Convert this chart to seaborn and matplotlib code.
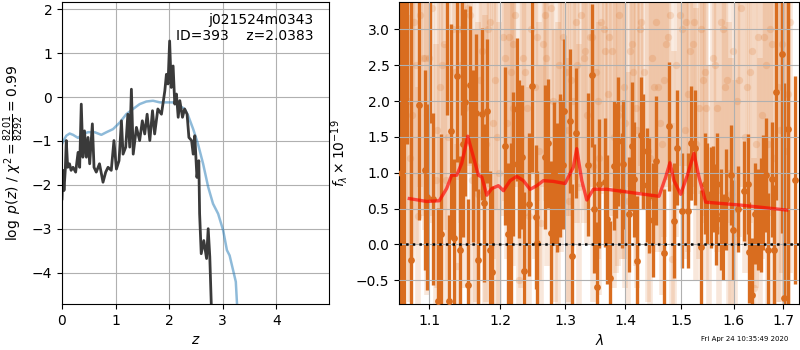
import numpy as np
import pandas as pd
import matplotlib
matplotlib.use("Agg")
import matplotlib.pyplot as plt
from matplotlib.ticker import FixedLocator, FixedFormatter, NullLocator
import seaborn as sns

# ---------------- left panel data: log p(z) ----------------
z_pz = [0.0, 0.019, 0.037, 0.062, 0.08, 0.106, 0.14, 0.17, 0.206, 0.255, 0.30, 0.33, 0.36, 0.39,
        0.42, 0.455, 0.486, 0.517, 0.567, 0.598, 0.64, 0.70, 0.766, 0.816, 0.86, 0.92, 0.97, 1.016,
        1.065, 1.11, 1.14, 1.19, 1.23, 1.265, 1.296, 1.33, 1.39, 1.45, 1.50, 1.545, 1.59, 1.64, 1.69,
        1.73, 1.79, 1.857, 1.92, 1.95, 1.98, 2.01, 2.04, 2.075, 2.106, 2.137, 2.17, 2.2, 2.25, 2.29,
        2.336, 2.37, 2.42, 2.45, 2.48, 2.52, 2.555, 2.57, 2.60, 2.648, 2.70, 2.73, 2.76, 2.80]
logpz = [-2.32, -1.67, -2.13, -1.64, -0.99, -1.6, -1.52, -1.67, -1.6, -1.71, -1.26, -1.6, -0.16, -1.37,
         -0.77, -1.37, -0.92, -1.52, -0.61, -1.6, -1.71, -1.52, -1.94, -1.71, -1.6, -1.67, -0.99, -1.64,
         -1.45, -0.54, -1.30, -1.14, -0.39, -1.14, 0.18, -1.30, -0.69, -0.99, -0.54, -0.84, -0.39, -0.99, -0.31,
         -0.84, -0.27, -0.39, 0.14, 0.52, 0.30, 1.28, 0.22, 0.71, -0.16, 0.07, -0.46, -0.08, -0.46, -0.27,
         -0.39, -0.92, -0.99, -1.30, -0.88, -1.83, -1.45, -2.66, -3.57, -3.27, -3.68, -3.0, -3.64, -5.2]

z_chi = [0.0, 0.03, 0.08, 0.143, 0.206, 0.30, 0.39, 0.486, 0.61, 0.735, 0.83, 0.953, 1.078, 1.2,
         1.327, 1.45, 1.576, 1.70, 1.826, 1.95, 2.075, 2.2, 2.29, 2.355, 2.45, 2.54, 2.635, 2.73,
         2.82, 2.916, 3.01, 3.08, 3.13, 3.196, 3.246, 3.29]
chi_curve = [-1.07, -0.99, -0.88, -0.83, -0.86, -0.93, -0.84, -0.80, -0.80, -0.86, -0.80, -0.73, -0.58, -0.39,
             -0.27, -0.16, -0.10, -0.083, -0.12, -0.12, -0.12, -0.20, -0.27, -0.42, -0.73, -1.07, -1.52, -2.05,
             -2.43, -2.66, -3.04, -3.49, -3.61, -3.95, -4.21, -5.2]

# ---------------- right panel: spectrum ----------------
wave_good = [1.062, 1.066, 1.0705, 1.0755, 1.0862, 1.0942, 1.0965, 1.1005, 1.1054, 1.1122, 1.1160,
             1.124, 1.1274, 1.1298, 1.1344, 1.1377, 1.1428, 1.145, 1.1461, 1.1494, 1.1541, 1.1569,
             1.1603, 1.1651, 1.1684, 1.1732, 1.1770, 1.1805, 1.1849, 1.1886, 1.2074, 1.2123,
             1.2163, 1.2198, 1.2249, 1.2283, 1.2324, 1.2364, 1.2440, 1.2486, 1.2538, 1.2563,
             1.2683, 1.2734, 1.2777, 1.2829, 1.2867, 1.2919, 1.2962, 1.2987, 1.3079, 1.3116,
             1.3171, 1.3377, 1.3433, 1.3476, 1.3516, 1.3554, 1.3654, 1.3693, 1.3738, 1.3806,
             1.3835, 1.3880, 1.3938, 1.3965, 1.4069, 1.4110, 1.4155, 1.4208, 1.4267, 1.4303,
             1.4384, 1.4414, 1.4490, 1.4538, 1.4688, 1.4773, 1.4864, 1.4925, 1.5017, 1.5128,
             1.5173, 1.5253, 1.5366, 1.5442, 1.5486, 1.5550, 1.5600, 1.5646, 1.5677, 1.5743,
             1.5793, 1.5840, 1.5944, 1.5977, 1.6076, 1.6207, 1.6275, 1.6301, 1.6367, 1.6421,
             1.6476, 1.6543, 1.6590, 1.6645, 1.6692, 1.6762, 1.6816, 1.6857, 1.6982, 1.7024,
             1.7095, 1.7250]
flux_good = [1.0, 2.0, 3.6, -0.22, 1.94, 1.04, 0.66, 3.7, 0.63, -0.79, 0.14,
             3.5, -0.79, 1.58, 0.09, 2.35, -0.07, 3.6, 1.40, 1.98, -0.57, 2.23,
             1.23, 1.84, -0.22, 1.82, 0.58, 1.86, -0.08, -0.39, 1.37, 0.14,
             0.22, 1.12, 1.885, 1.19, 1.22, -0.37, 0.56, 2.21, 0.385, 0.02,
             1.22, 1.41, 0.16, 0.99, 0.80, 1.10, 1.11, 1.86, 1.72, -0.16,
             1.555, 1.115, 2.36, 0.50, -0.59, 0.85, 0.87, 0.35, -0.47, 1.10,
             1.17, 1.44, 0.75, 1.12, 0.42, 1.37, 0.91, -0.23, 1.53, 1.30,
             0.83, 0.68, 0.34, 1.17, -0.125, 1.65, 0.33, 1.35, 0.47, 0.47,
             1.415, 1.35, -0.04, 0.85, 0.71, 0.655, 0.78, 0.42, 0.85, 0.35,
             0.10, 0.63, 0.97, 0.20, 0.49, 0.75, 0.84, -0.11, -0.71, 0.43,
             0.35, 0.41, 0.72, 0.97, -0.08, 0.91, -0.07, 2.12, 2.66, -0.75,
             1.61, 0.9]
err_good = [4.0, 3.5, 2.2, 3.8, 1.6, 1.4, 1.3, 2.0, 1.2, 1.3, 1.4,
            1.7, 1.2, 1.5, 1.1, 1.2, 1.3, 1.8, 1.3, 1.3, 1.2, 1.1,
            1.2, 1.1, 1.0, 1.2, 1.1, 1.0, 1.1, 1.2, 1.1, 1.0,
            1.2, 1.0, 1.0, 1.1, 1.0, 1.1, 1.0, 1.2, 1.0, 1.0,
            1.0, 0.9, 1.0, 1.0, 0.9, 1.0, 0.9, 1.0, 1.0, 1.0,
            0.9, 1.0, 1.0, 0.9, 0.9, 0.9, 0.9, 0.9, 0.8, 0.9,
            0.8, 0.9, 0.8, 0.9, 0.8, 0.9, 0.8, 0.9, 0.8, 0.8,
            0.8, 0.8, 0.8, 0.9, 0.9, 0.9, 0.8, 0.8, 0.8, 0.8,
            0.8, 0.8, 0.8, 0.7, 0.7, 0.7, 0.6, 0.7, 0.7, 0.7,
            0.6, 0.7, 0.7, 0.7, 0.6, 0.7, 0.7, 0.7, 0.8, 0.7,
            0.7, 0.8, 0.8, 0.8, 0.8, 0.8, 0.9, 1.5, 2.5, 3.0,
            2.5, 1.45]

wave_faint = [1.068, 1.074, 1.079, 1.085, 1.091, 1.097, 1.103, 1.109, 1.114, 1.120,
              1.126, 1.132, 1.138, 1.144, 1.150, 1.156, 1.162, 1.168, 1.174, 1.180,
              1.186, 1.192, 1.198, 1.204, 1.210, 1.216, 1.222, 1.228, 1.234, 1.240,
              1.247, 1.253, 1.259, 1.265, 1.272, 1.278, 1.284, 1.291, 1.297, 1.304,
              1.310, 1.317, 1.323, 1.330, 1.336, 1.343, 1.350, 1.356, 1.363, 1.370,
              1.377, 1.384, 1.390, 1.397, 1.404, 1.411, 1.418, 1.425, 1.433, 1.440,
              1.447, 1.454, 1.461, 1.469, 1.476, 1.483, 1.491, 1.498, 1.506, 1.513,
              1.521, 1.528, 1.536, 1.544, 1.552, 1.559, 1.567, 1.575, 1.583, 1.591,
              1.599, 1.607, 1.615, 1.623, 1.632, 1.640, 1.648, 1.656, 1.665, 1.673,
              1.681, 1.690, 1.698, 1.707, 1.715, 1.071, 1.117, 1.165, 1.213, 1.262,
              1.313, 1.366, 1.421, 1.479, 1.540, 1.603, 1.669, 1.094, 1.141, 1.189,
              1.238, 1.288, 1.340, 1.394, 1.450, 1.509, 1.571, 1.636, 1.703, 1.082,
              1.077, 1.100, 1.123, 1.147, 1.171, 1.195, 1.219, 1.244, 1.268, 1.294,
              1.320, 1.346, 1.373, 1.400, 1.428, 1.457, 1.486, 1.516, 1.547, 1.579,
              1.611, 1.644, 1.677, 1.711, 1.088, 1.111, 1.135, 1.159, 1.183, 1.207,
              1.231, 1.256, 1.281, 1.307, 1.333, 1.359, 1.387, 1.414, 1.443, 1.472,
              1.502, 1.532, 1.563, 1.595, 1.627, 1.660, 1.694, 1.153, 1.178, 1.301,
              1.353, 1.408, 1.465, 1.524, 1.587, 1.652, 1.219, 1.270, 1.326, 1.380]
flux_faint = [2.9, 1.2, 3.1, 0.4, 2.6, 1.8, 3.3, 0.9, 2.2, 2.8,
              1.5, 3.0, -0.3, 2.5, 1.9, 3.2, 2.1, 0.7, 2.7, 1.4,
              3.1, 2.3, 1.0, 2.9, 1.7, 2.4, 3.2, -0.5, 2.6, 1.9,
              3.0, 2.2, 1.3, 2.8, 2.0, 3.3, 1.1, 2.5, 2.9, 1.6,
              2.3, 3.1, 0.8, 2.6, 1.8, 2.9, 2.4, 1.2, 3.0, 2.1,
              2.7, 1.5, 3.2, 2.2, 0.6, 2.8, 1.9, 3.0, 2.4, 1.3,
              2.6, 3.1, 1.7, 2.3, 2.9, -0.2, 2.5, 3.2, 1.6, 2.1,
              2.8, 1.4, 3.0, 2.4, 0.7, 2.6, 1.9, 3.1, 2.2, 1.0,
              2.7, 2.0, 3.3, 1.5, 2.4, -0.6, 2.9, 1.8, 2.5, 3.0,
              1.2, 2.2, 2.8, 1.6, 3.1, 2.0, 2.5, 1.1, 2.9, 0.3,
              2.0, 2.7, 1.6, 3.2, 2.3, 0.5, 1.4, 2.6, 3.0, 1.7,
              2.4, 0.9, 2.9, 1.9, 2.2, 3.1, 0.2, 2.7, 1.3, 2.5,
              1.8, 2.6, 0.9, 3.0, 2.3, 1.5, 2.8, 0.4, 3.2, 2.0,
              2.5, 1.1, 2.9, 1.7, 3.1, 2.2, 0.8, 2.7, 1.9, 3.0,
              2.3, 1.4, 2.8, 2.1, 3.2, 1.6, 2.4, 0.9, 3.0, 2.6,
              1.5, 2.9, 2.0, 0.6, 2.7, 3.1, 1.8, 2.4, 1.2, 2.8,
              3.0, 1.9, 2.5, 0.7, 2.2, 2.9, 1.6, 3.3, 1.1, 2.4,
              2.0, 2.7, 1.4, 3.1, 2.3, 0.8, 1.9, 2.6, 3.2, 1.5]
err_faint = [2.4, 2.0, 2.6, 1.8, 2.2, 2.5, 2.9, 1.9, 2.1, 2.6,
             2.0, 2.3, 1.7, 2.2, 2.5, 2.1, 1.9, 2.4, 2.0, 2.2,
             2.3, 1.8, 2.1, 2.5, 1.9, 2.2, 2.4, 1.7, 2.0, 2.3,
             2.1, 2.4, 1.8, 2.0, 2.3, 2.6, 1.9, 2.2, 2.1, 2.4,
             1.9, 2.2, 2.0, 2.3, 1.8, 2.1, 2.4, 1.9, 2.2, 2.0,
             2.3, 1.9, 2.1, 2.4, 1.8, 2.0, 2.2, 2.5, 1.9, 2.1,
             2.0, 2.3, 1.8, 2.2, 2.0, 1.9, 2.4, 2.1, 1.8, 2.2,
             2.1, 1.9, 2.3, 2.0, 1.8, 2.2, 2.0, 2.4, 1.9, 2.1,
             2.2, 2.0, 2.5, 1.9, 2.1, 1.8, 2.3, 2.0, 2.2, 2.6,
             2.8, 3.0, 3.2, 3.3, 3.5, 2.5, 2.0, 1.9, 2.1, 2.2,
             2.0, 1.9, 2.2, 2.1, 2.0, 1.8, 2.3, 2.4, 2.1, 1.9,
             2.0, 2.2, 1.9, 2.1, 2.3, 2.0, 1.8, 2.2, 3.0, 2.5,
             2.0, 2.3, 1.9, 2.2, 2.1, 2.4, 2.0, 1.8, 2.3, 2.1,
             2.2, 1.9, 2.1, 2.3, 2.0, 2.2, 1.9, 2.1, 2.4, 2.0,
             2.2, 2.0, 2.3, 3.0, 2.4, 2.2, 1.9, 2.1, 2.3, 2.0,
             2.1, 2.3, 1.9, 2.0, 2.2, 2.4, 2.1, 1.9, 2.2, 2.0,
             2.3, 2.1, 2.0, 1.9, 2.2, 2.0, 2.4, 2.3, 2.1, 2.0,
             2.2, 1.9, 2.1, 2.3, 2.0, 1.8, 2.2, 2.0, 2.4, 2.1]

wave_model = [1.0733, 1.0965, 1.1136, 1.1237, 1.1307, 1.1377, 1.1447, 1.1533, 1.1613, 1.1685,
              1.1734, 1.1806, 1.1879, 1.1976, 1.2050, 1.2150, 1.2250, 1.2350, 1.2452, 1.2555,
              1.2657, 1.2814, 1.3000, 1.3133, 1.3188, 1.3270, 1.3352, 1.3461, 1.3685, 1.4592,
              1.4713, 1.4791, 1.4864, 1.4987, 1.5111, 1.5234, 1.5328, 1.5455, 1.6124, 1.7074]
flux_model = [0.64, 0.60, 0.61, 0.78, 0.966, 0.966, 1.13, 1.51, 1.22, 0.966,
              0.94, 0.687, 0.78, 0.82, 0.75, 0.89, 0.95, 0.89, 0.769, 0.82,
              0.89, 0.88, 0.85, 1.08, 1.336, 0.89, 0.62, 0.77, 0.77, 0.672,
              0.94, 1.14, 0.89, 0.70, 0.966, 1.27, 0.94, 0.59, 0.55, 0.48]

x_ticks = [1.1, 1.2, 1.3, 1.4, 1.5, 1.6, 1.7]
x_tick_labels = ["1.1", "1.2", "1.3", "1.4", "1.5", "1.6", "1.7"]

ORANGE = "#d96d1f"

fig = plt.figure(figsize=(8, 3.5), dpi=100)
ax1 = fig.add_axes([0.0775, 0.131, 0.334, 0.863])
ax2 = fig.add_axes([0.499, 0.131, 0.500, 0.863])

# ----- left panel -----
df_chi = pd.DataFrame({"z": z_chi, "v": chi_curve})
df_pz = pd.DataFrame({"z": z_pz, "v": logpz})
sns.lineplot(data=df_chi, x="z", y="v", ax=ax1, sort=False, estimator=None,
             color="#1f77b4", alpha=0.5, lw=1.8)
sns.lineplot(data=df_pz, x="z", y="v", ax=ax1, sort=False, estimator=None,
             color="#3a3a3a", lw=2.0)
ax1.set_xlim(0, 4.99)
ax1.set_ylim(-4.72, 2.166)
ax1.set_xticks([0, 1, 2, 3, 4])
ax1.set_yticks([-4, -3, -2, -1, 0, 1, 2])
ax1.grid(True)
ax1.set_xlabel(r"$z$")
ax1.set_ylabel(r"$\log\ p(z)$ / $\chi^2=\frac{8201}{8292}=0.99$")
ax1.text(0.94, 0.965, "j021524m0343\nID=393    z=2.0383", transform=ax1.transAxes,
         ha="right", va="top", fontsize=10)

# ----- right panel -----
ax2.errorbar(wave_faint, flux_faint, yerr=err_faint, fmt="none", ecolor=ORANGE,
             alpha=0.16, lw=4, zorder=1)
df_faint = pd.DataFrame({"w": wave_faint, "f": flux_faint})
sns.scatterplot(data=df_faint, x="w", y="f", ax=ax2, color=ORANGE, s=28,
                alpha=0.18, linewidth=0, zorder=1)
ax2.errorbar(wave_good, flux_good, yerr=err_good, fmt="none", ecolor=ORANGE,
             lw=2.4, zorder=2)
df_good = pd.DataFrame({"w": wave_good, "f": flux_good})
sns.scatterplot(data=df_good, x="w", y="f", ax=ax2, color=ORANGE, s=24,
                linewidth=0, zorder=3)
df_model = pd.DataFrame({"w": wave_model, "f": flux_model})
sns.lineplot(data=df_model, x="w", y="f", ax=ax2, sort=False, estimator=None,
             color="red", alpha=0.65, lw=2.4, zorder=4)
ax2.axhline(0, color="k", ls=":", lw=1.8, zorder=5)

ax2.set_xscale("log")
ax2.set_xlim(1.06, 1.734)
ax2.set_ylim(-0.832, 3.38)
ax2.xaxis.set_major_locator(FixedLocator(x_ticks))
ax2.xaxis.set_major_formatter(FixedFormatter(x_tick_labels))
ax2.xaxis.set_minor_locator(NullLocator())
ax2.set_yticks([-0.5, 0.0, 0.5, 1.0, 1.5, 2.0, 2.5, 3.0])
ax2.grid(True, zorder=0)
ax2.set_axisbelow(False)
ax2.set_xlabel(r"$\lambda$")
ax2.set_ylabel(r"$f_\lambda \times 10^{-19}$")

fig.text(0.985, 0.031, "Fri Apr 24 10:35:49 2020", ha="right", va="center", fontsize=5)

fig.savefig("out.png", dpi=100)
